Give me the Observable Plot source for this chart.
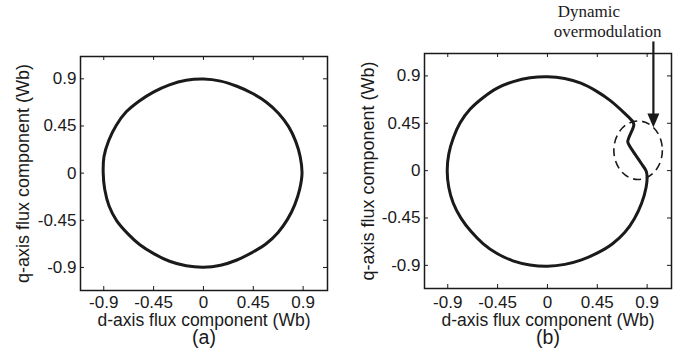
<!DOCTYPE html>
<html><head><meta charset="utf-8">
<script src="https://cdn.jsdelivr.net/npm/d3@7"></script>
<script src="https://cdn.jsdelivr.net/npm/@observablehq/plot@0.6"></script>
<style>
body{margin:0;background:#fff;}
#wrap{position:relative;width:681px;height:354px;overflow:hidden;background:#fff;}
.panel{position:absolute;top:0;}
</style></head><body>
<div id="wrap"><div id="pa" class="panel" style="left:0"></div><div id="pb" class="panel" style="left:340px"></div></div>
<script>
// ---- data ----
const tickValues = [-0.9, -0.45, 0, 0.45, 0.9];
const tickLabels = ["-0.9", "-0.45", "0", "0.45", "0.9"];
const xLabel = "d-axis flux component (Wb)";
const yLabel = "q-axis flux component (Wb)";
const captions = ["(a)", "(b)"];
const annotationLines = ["Dynamic", "overmodulation"];

// panel (a): stator flux trajectory (d, q), read counter-clockwise from the right
const dA = [0.890, 0.874, 0.833, 0.769, 0.679, 0.568, 0.440, 0.302, 0.155, 0.000, -0.156, -0.307, -0.448, -0.579, -0.697, -0.788, -0.855, -0.898, -0.905, -0.891, -0.853, -0.784, -0.686, -0.574, -0.445, -0.306, -0.156, 0.000, 0.155, 0.302, 0.438, 0.566, 0.674, 0.760, 0.825, 0.869];
const qA = [0.000, 0.154, 0.303, 0.444, 0.570, 0.677, 0.762, 0.829, 0.878, 0.898, 0.886, 0.843, 0.776, 0.689, 0.585, 0.455, 0.311, 0.158, 0.000, -0.157, -0.311, -0.453, -0.575, -0.684, -0.771, -0.841, -0.884, -0.898, -0.879, -0.829, -0.758, -0.674, -0.566, -0.439, -0.300, -0.153];

// panel (b): trajectory with dynamic overmodulation
const dB = [0.770, 0.690, 0.562, 0.438, 0.302, 0.155, 0.000, -0.156, -0.308, -0.453, -0.582, -0.697, -0.788, -0.850, -0.891, -0.905, -0.891, -0.850, -0.781, -0.689, -0.582, -0.455, -0.312, -0.158, 0.000, 0.157, 0.308, 0.452, 0.585, 0.699, 0.786, 0.850, 0.891, 0.900, 0.892, 0.846, 0.737, 0.725, 0.780];
const qB = [0.466, 0.552, 0.670, 0.758, 0.831, 0.876, 0.893, 0.883, 0.846, 0.784, 0.693, 0.585, 0.455, 0.310, 0.157, 0.000, -0.157, -0.310, -0.451, -0.579, -0.693, -0.788, -0.857, -0.896, -0.908, -0.891, -0.848, -0.782, -0.697, -0.586, -0.454, -0.310, -0.157, -0.060, -0.005, 0.070, 0.244, 0.276, 0.434];

// annotation geometry (data units, panel b)
const ellipseCenter = [0.823, 0.189];
const ellipseRadii = [0.219, 0.278];
const arrowX = 0.961, arrowFromY = 1.223, arrowToY = 0.406;
const annotationPos = [[0.093, 1.515], [0.057, 1.325]];

const xDomain = [-1.11, 1.12];
const yDomain = [-1.12, 1.113];

const rowsA = dA.map((d, i) => ({d, q: qA[i]}));
const rowsB = dB.map((d, i) => ({d, q: qB[i]}));
const fmt = d => tickLabels[tickValues.indexOf(d)];
const INK = "#1a1a1a";
const SANS = "'Liberation Sans', Arial, Helvetica, sans-serif";
const SERIF = "'Liberation Serif', 'Times New Roman', serif";

function svgEl(name, attrs) {
  const el = document.createElementNS("http://www.w3.org/2000/svg", name);
  for (const k in attrs) el.setAttribute(k, attrs[k]);
  return el;
}

function annotationMark(index, scales) {
  const {x, y} = scales;
  const g = svgEl("g", {});
  const cx = x(ellipseCenter[0]), cy = y(ellipseCenter[1]);
  g.appendChild(svgEl("ellipse", {
    cx, cy,
    rx: Math.abs(x(ellipseCenter[0] + ellipseRadii[0]) - cx),
    ry: Math.abs(y(ellipseCenter[1] + ellipseRadii[1]) - cy),
    fill: "none", stroke: INK, "stroke-width": 1.6, "stroke-dasharray": "8,5"
  }));
  const ax = x(arrowX), y0 = y(arrowFromY), y1 = y(arrowToY);
  g.appendChild(svgEl("line", {x1: ax, x2: ax, y1: y0, y2: y1 - 12, stroke: INK, "stroke-width": 2.2}));
  g.appendChild(svgEl("polygon", {points: `${ax - 6},${y1 - 14} ${ax + 6},${y1 - 14} ${ax},${y1}`, fill: INK}));
  return g;
}

function panel(rows, cap, opts, extra) {
  return Plot.plot({
    width: opts.width, height: 354,
    marginLeft: opts.ml, marginRight: opts.mr, marginTop: opts.mt, marginBottom: opts.mb,
    style: {fontFamily: SANS, color: INK, background: "white", overflow: "visible"},
    x: {domain: xDomain, axis: null},
    y: {domain: yDomain, axis: null},
    marks: [
      Plot.line(rows, {x: "d", y: "q", curve: "catmull-rom-closed", stroke: INK, strokeWidth: 3, strokeLinejoin: "round"}),
      Plot.axisX(tickValues, {anchor: "bottom", tickSize: 0, tickPadding: opts.xpad, tickFormat: fmt, fontSize: 17, label: null}),
      Plot.axisY(tickValues, {anchor: "left", tickSize: 0, tickPadding: 4, tickFormat: fmt, fontSize: 17, label: null}),
      // inward tick marks on all four sides
      Plot.ruleX(tickValues, {x: d => d, y1: yDomain[0], y2: yDomain[0], insetBottom: 4, stroke: INK, strokeWidth: 1}),
      Plot.ruleX(tickValues, {x: d => d, y1: yDomain[1], y2: yDomain[1], insetTop: 4, stroke: INK, strokeWidth: 1}),
      Plot.ruleY(tickValues, {y: d => d, x1: xDomain[0], x2: xDomain[0], insetLeft: 4, stroke: INK, strokeWidth: 1}),
      Plot.ruleY(tickValues, {y: d => d, x1: xDomain[1], x2: xDomain[1], insetRight: 4, stroke: INK, strokeWidth: 1}),
      Plot.frame({stroke: INK, strokeWidth: 1.5}),
      Plot.text([xLabel], {frameAnchor: "bottom", textAnchor: "middle", lineAnchor: "middle", dy: opts.xlab, fontSize: 17.5, fill: INK}),
      Plot.text([yLabel], {frameAnchor: "left", textAnchor: "middle", lineAnchor: "middle", dx: opts.ylab, rotate: -90, fontSize: 18, fill: INK}),
      Plot.text([cap], {frameAnchor: "bottom", textAnchor: "middle", lineAnchor: "middle", dy: opts.cap, fontSize: 19.5, fill: INK}),
      ...extra
    ]
  });
}

document.getElementById("pa").appendChild(panel(rowsA, captions[0],
  {width: 340, ml: 80, mr: 13, mt: 56, mb: 64, xpad: 5.5, xlab: 30, ylab: -57, cap: 47.5}, []));

document.getElementById("pb").appendChild(panel(rowsB, captions[1],
  {width: 341, ml: 84, mr: 10, mt: 53, mb: 66, xpad: 7, xlab: 31.5, ylab: -56, cap: 49}, 
  [
    annotationMark,
    Plot.text([annotationLines[0]], {x: annotationPos[0][0], y: annotationPos[0][1], text: d => d, textAnchor: "start", fontFamily: SERIF, fontSize: 17, fill: INK}),
    Plot.text([annotationLines[1]], {x: annotationPos[1][0], y: annotationPos[1][1], text: d => d, textAnchor: "start", fontFamily: SERIF, fontSize: 17, fill: INK})
  ]));
</script>
</body></html>
